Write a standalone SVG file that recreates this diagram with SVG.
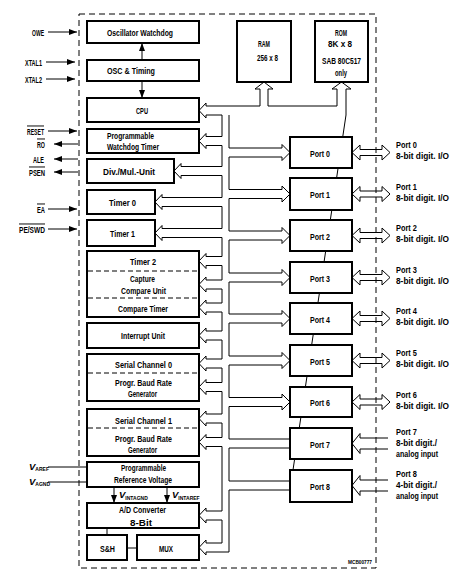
<svg xmlns="http://www.w3.org/2000/svg" width="466" height="577" viewBox="0 0 466 577">
<style>
.b{fill:#fff;stroke:#000;stroke-width:2}
.bus{fill:none;stroke:#000;stroke-width:1;stroke-linejoin:miter}
.ln{fill:none;stroke:#000;stroke-width:1}
.dv{stroke:#000;stroke-width:1;stroke-dasharray:5 3}
.t{font-family:"Liberation Sans",Arial,sans-serif;font-weight:bold;font-size:9.5px;fill:#000}
.s{font-size:5px}
.ov{text-decoration:overline}
</style>
<defs>
<marker id="ah" markerWidth="8" markerHeight="6" refX="8" refY="3" orient="auto" markerUnits="userSpaceOnUse"><path d="M0,0L8,3L0,6z" fill="#000"/></marker>
</defs>
<rect x="0" y="0" width="466" height="577" fill="#fff"/>
<rect id="chip" x="79" y="14" width="297" height="554" fill="none" stroke="#000" stroke-width="1" stroke-dasharray="6 4"/>

<g id="connectors">
<path class="bus" d="M229,115 L229,148 L282,148 L282,144.5 L290,152.5 L282,160.5 L282,157 L229,157 L229,189.5 L282,189.5 L282,186 L290,194 L282,202 L282,198.5 L229,198.5 L229,231 L282,231 L282,227.5 L290,235.5 L282,243.5 L282,240 L229,240 L229,273 L282,273 L282,269.5 L290,277.5 L282,285.5 L282,282 L229,282 L229,314 L282,314 L282,310.5 L290,318.5 L282,326.5 L282,323 L229,323 L229,356 L282,356 L282,352.5 L290,360.5 L282,368.5 L282,365 L229,365 L229,397.5 L282,397.5 L282,394 L290,402 L282,410 L282,406.5 L229,406.5 L229,439 L290,439 M290,448 L229,448 L229,481 L290,481 M290,490 L229,490 L229,552 L206,552 L206,555 L199,547.5 L206,540 L206,543 L222,543 L222,520 L206,520 L206,523 L199,515.5 L206,508 L206,511 L222,511 L222,446.5 L206,446.5 L206,449.5 L199,442 L206,434.5 L206,437.5 L222,437.5 L222,423 L206,423 L206,426 L199,418.5 L206,411 L206,414 L222,414 L222,391.5 L206,391.5 L206,394.5 L199,387 L206,379.5 L206,382.5 L222,382.5 L222,368 L206,368 L206,371 L199,363.5 L206,356 L206,359 L222,359 L222,340 L206,340 L206,343 L199,335.5 L206,328 L206,331 L222,331 L222,312 L206,312 L206,315 L199,307.5 L206,300 L206,303 L222,303 L222,289 L206,289 L206,292 L199,284.5 L206,277 L206,280 L222,280 L222,265.5 L206,265.5 L206,268.5 L199,261 L206,253.5 L206,256.5 L222,256.5 L222,237.5 L162,237.5 L162,240.5 L155,233 L162,225.5 L162,228.5 L222,228.5 L222,206.5 L162,206.5 L162,209.5 L155,202 L162,194.5 L162,197.5 L222,197.5 L222,175.5 L181,175.5 L181,178.5 L174,171 L181,163.5 L181,166.5 L222,166.5 L222,145.5 L206,145.5 L206,148.5 L199,141 L206,133.5 L206,136.5 L222,136.5 L222,115 L206,115 L206,118 L199,110.5 L206,103 L206,106 L260,106 L260,89 L255,89 L264,82 L273,89 L268,89 L268,106 L337,106 L337,89 L332,89 L341.5,82 L351,89 L346,89 L346,115 Z"/>
<path class="bus" d="M352,152.5L360,145L360,149.5L382,149.5L382,145L390,152.5L382,160L382,155.5L360,155.5L360,160Z M352,194L360,186.5L360,191L382,191L382,186.5L390,194L382,201.5L382,197L360,197L360,201.5Z M352,235.5L360,228L360,232.5L382,232.5L382,228L390,235.5L382,243L382,238.5L360,238.5L360,243Z M352,277.5L360,270L360,274.5L382,274.5L382,270L390,277.5L382,285L382,280.5L360,280.5L360,285Z M352,318.5L360,311L360,315.5L382,315.5L382,311L390,318.5L382,326L382,321.5L360,321.5L360,326Z M352,360.5L360,353L360,357.5L382,357.5L382,353L390,360.5L382,368L382,363.5L360,363.5L360,368Z M352,402L360,394.5L360,399L382,399L382,394.5L390,402L382,409.5L382,405L360,405L360,409.5Z"/>
<path class="bus" d="M388,438L360,438L360,433.5L352,443.5L360,453.5L360,449L388,449 M388,480L360,480L360,475.5L352,485.5L360,495.5L360,491L388,491"/>
<line class="ln" x1="142" y1="60" x2="142" y2="43" marker-end="url(#ah)"/>
<line class="ln" x1="142" y1="81" x2="142" y2="98" marker-end="url(#ah)"/>
<line class="ln" x1="114" y1="487" x2="114" y2="503" marker-end="url(#ah)"/>
<line class="ln" x1="167" y1="487" x2="167" y2="503" marker-end="url(#ah)"/>
<line class="ln" x1="107" y1="528" x2="107" y2="535"/>
<line class="ln" x1="127" y1="548" x2="137" y2="548"/>
<line class="ln" x1="48" y1="32" x2="77" y2="32" marker-end="url(#ah)"/>
<line class="ln" x1="46" y1="62" x2="75" y2="62" marker-end="url(#ah)"/>
<line class="ln" x1="46" y1="79" x2="75" y2="79" marker-end="url(#ah)"/>
<line class="ln" x1="48" y1="131" x2="77" y2="131" marker-end="url(#ah)"/>
<line class="ln" x1="78" y1="144" x2="54" y2="144" marker-end="url(#ah)"/>
<line class="ln" x1="78" y1="159" x2="54" y2="159" marker-end="url(#ah)"/>
<line class="ln" x1="78" y1="172" x2="54" y2="172" marker-end="url(#ah)"/>
<line class="ln" x1="48" y1="209" x2="77" y2="209" marker-end="url(#ah)"/>
<line class="ln" x1="48" y1="229" x2="77" y2="229" marker-end="url(#ah)"/>
<line class="ln" x1="48" y1="467" x2="87" y2="467"/>
<line class="ln" x1="48" y1="482" x2="87" y2="482"/>
</g>

<g id="ext-labels">
<text class="t" x="32" y="35.5" textLength="12" lengthAdjust="spacingAndGlyphs">OWE</text>
<text class="t" x="25" y="65.5" textLength="17" lengthAdjust="spacingAndGlyphs">XTAL1</text>
<text class="t" x="25" y="82.5" textLength="17" lengthAdjust="spacingAndGlyphs">XTAL2</text>
<text class="t ov" x="27" y="134.5" textLength="17" lengthAdjust="spacingAndGlyphs">RESET</text>
<text class="t ov" x="37" y="147.5" textLength="8" lengthAdjust="spacingAndGlyphs">RO</text>
<text class="t" x="33" y="162.5" textLength="11" lengthAdjust="spacingAndGlyphs">ALE</text>
<text class="t ov" x="29" y="175.5" textLength="16" lengthAdjust="spacingAndGlyphs">PSEN</text>
<text class="t ov" x="37" y="212.5" textLength="8" lengthAdjust="spacingAndGlyphs">EA</text>
<text class="t ov" x="19" y="232.5" textLength="26" lengthAdjust="spacingAndGlyphs">PE/SWD</text>
<text class="t" x="29" y="469.5" font-style="italic">V<tspan class="s" dy="1.5" font-style="normal">AREF</tspan></text>
<text class="t" x="29" y="484.5" font-style="italic">V<tspan class="s" dy="1.5" font-style="normal">AGND</tspan></text>
<text class="t" x="119" y="498" font-style="italic">V<tspan class="s" dy="1.5" font-style="normal">INTAGND</tspan></text>
<text class="t" x="172" y="498" font-style="italic">V<tspan class="s" dy="1.5" font-style="normal">INTAREF</tspan></text>
</g>

<g id="osc-watchdog"><rect class="b" x="87" y="21" width="112" height="22"/><text class="t" x="107" y="35.5" textLength="66" lengthAdjust="spacingAndGlyphs">Oscillator Watchdog</text></g>
<g id="osc-timing"><rect class="b" x="87" y="60" width="112" height="21"/><text class="t" x="107" y="74" textLength="48" lengthAdjust="spacingAndGlyphs">OSC &amp; Timing</text></g>
<g id="cpu"><rect class="b" x="87" y="98" width="112" height="24"/><text class="t" x="136" y="113.5" textLength="12" lengthAdjust="spacingAndGlyphs">CPU</text></g>
<g id="pwt"><rect class="b" x="87" y="129" width="112" height="24"/><text class="t" x="107" y="138.5" textLength="47" lengthAdjust="spacingAndGlyphs">Programmable</text><text class="t" x="107" y="149.5" textLength="52" lengthAdjust="spacingAndGlyphs">Watchdog Timer</text></g>
<g id="divmul"><rect class="b" x="87" y="159" width="87" height="24"/><text class="t" x="103" y="175" textLength="52" lengthAdjust="spacingAndGlyphs">Div./Mul.-Unit</text></g>
<g id="timer0"><rect class="b" x="87" y="190" width="68" height="24"/><text class="t" x="109" y="206" textLength="27" lengthAdjust="spacingAndGlyphs">Timer 0</text></g>
<g id="timer1"><rect class="b" x="87" y="220" width="68" height="26"/><text class="t" x="110" y="236.6" textLength="25" lengthAdjust="spacingAndGlyphs">Timer 1</text></g>
<g id="timer2"><rect class="b" x="87" y="251" width="112" height="66"/><line class="dv" x1="88" y1="271" x2="198" y2="271"/><line class="dv" x1="88" y1="298" x2="198" y2="298"/>
<text class="t" x="130" y="265" textLength="26" lengthAdjust="spacingAndGlyphs">Timer 2</text>
<text class="t" x="130" y="282.3" textLength="25" lengthAdjust="spacingAndGlyphs">Capture</text>
<text class="t" x="121" y="294.3" textLength="45" lengthAdjust="spacingAndGlyphs">Compare Unit</text>
<text class="t" x="118" y="312.3" textLength="50" lengthAdjust="spacingAndGlyphs">Compare Timer</text></g>
<g id="interrupt"><rect class="b" x="87" y="323" width="112" height="25"/><text class="t" x="121" y="338.5" textLength="44" lengthAdjust="spacingAndGlyphs">Interrupt Unit</text></g>
<g id="serial0"><rect class="b" x="87" y="354" width="112" height="47"/><line class="dv" x1="88" y1="373" x2="198" y2="373"/>
<text class="t" x="115" y="368.3" textLength="57" lengthAdjust="spacingAndGlyphs">Serial Channel 0</text>
<text class="t" x="115" y="386" textLength="57" lengthAdjust="spacingAndGlyphs">Progr. Baud Rate</text>
<text class="t" x="128" y="396.8" textLength="29" lengthAdjust="spacingAndGlyphs">Generator</text></g>
<g id="serial1"><rect class="b" x="87" y="409" width="112" height="47"/><line class="dv" x1="88" y1="428" x2="198" y2="428"/>
<text class="t" x="115" y="424" textLength="57" lengthAdjust="spacingAndGlyphs">Serial Channel 1</text>
<text class="t" x="115" y="441.6" textLength="57" lengthAdjust="spacingAndGlyphs">Progr. Baud Rate</text>
<text class="t" x="128" y="452.8" textLength="29" lengthAdjust="spacingAndGlyphs">Generator</text></g>
<g id="refvolt"><rect class="b" x="87" y="462" width="112" height="25"/><text class="t" x="121" y="470.6" textLength="45" lengthAdjust="spacingAndGlyphs">Programmable</text><text class="t" x="114" y="483.3" textLength="58" lengthAdjust="spacingAndGlyphs">Reference Voltage</text></g>
<g id="adc"><rect class="b" x="87" y="503" width="112" height="25"/><text class="t" x="119" y="513.3" textLength="47" lengthAdjust="spacingAndGlyphs">A/D Converter</text><text class="t" x="130" y="525.6" textLength="22" lengthAdjust="spacingAndGlyphs">8-Bit</text></g>
<g id="sh"><rect class="b" x="87" y="535" width="40" height="25"/><text class="t" x="100" y="551.6" textLength="15" lengthAdjust="spacingAndGlyphs">S&amp;H</text></g>
<g id="mux"><rect class="b" x="137" y="535" width="62" height="25"/><text class="t" x="159" y="551.6" textLength="14" lengthAdjust="spacingAndGlyphs">MUX</text></g>

<g id="ram"><rect class="b" x="237" y="21" width="54" height="61"/><text class="t" x="258" y="47" textLength="12" lengthAdjust="spacingAndGlyphs">RAM</text><text class="t" x="257" y="60.6" textLength="21" lengthAdjust="spacingAndGlyphs">256 x 8</text></g>
<g id="rom"><rect class="b" x="315" y="21" width="53" height="61"/><text class="t" x="335" y="36" textLength="12" lengthAdjust="spacingAndGlyphs">ROM</text><text class="t" x="328" y="47.3" textLength="24" lengthAdjust="spacingAndGlyphs">8K x 8</text><text class="t" x="322" y="64" textLength="39" lengthAdjust="spacingAndGlyphs">SAB 80C517</text><text class="t" x="335" y="75.5" textLength="12" lengthAdjust="spacingAndGlyphs">only</text></g>

<g id="port0"><rect class="b" x="290" y="137" width="62" height="31"/><text class="t" x="310" y="156.5" textLength="20" lengthAdjust="spacingAndGlyphs">Port 0</text><text class="t" x="396" y="148.3" textLength="21" lengthAdjust="spacingAndGlyphs">Port 0</text><text class="t" x="396" y="159.3" textLength="53" lengthAdjust="spacingAndGlyphs">8-bit digit. I/O</text></g>
<g id="port1"><rect class="b" x="290" y="178" width="62" height="32"/><text class="t" x="310" y="198" textLength="20" lengthAdjust="spacingAndGlyphs">Port 1</text><text class="t" x="396" y="189.8" textLength="21" lengthAdjust="spacingAndGlyphs">Port 1</text><text class="t" x="396" y="200.8" textLength="53" lengthAdjust="spacingAndGlyphs">8-bit digit. I/O</text></g>
<g id="port2"><rect class="b" x="290" y="220" width="62" height="31"/><text class="t" x="310" y="239.5" textLength="20" lengthAdjust="spacingAndGlyphs">Port 2</text><text class="t" x="396" y="231.3" textLength="21" lengthAdjust="spacingAndGlyphs">Port 2</text><text class="t" x="396" y="242.3" textLength="53" lengthAdjust="spacingAndGlyphs">8-bit digit. I/O</text></g>
<g id="port3"><rect class="b" x="290" y="262" width="62" height="31"/><text class="t" x="310" y="281.5" textLength="20" lengthAdjust="spacingAndGlyphs">Port 3</text><text class="t" x="396" y="273.3" textLength="21" lengthAdjust="spacingAndGlyphs">Port 3</text><text class="t" x="396" y="284.3" textLength="53" lengthAdjust="spacingAndGlyphs">8-bit digit. I/O</text></g>
<g id="port4"><rect class="b" x="290" y="303" width="62" height="31"/><text class="t" x="310" y="322.5" textLength="20" lengthAdjust="spacingAndGlyphs">Port 4</text><text class="t" x="396" y="314.3" textLength="21" lengthAdjust="spacingAndGlyphs">Port 4</text><text class="t" x="396" y="325.3" textLength="53" lengthAdjust="spacingAndGlyphs">8-bit digit. I/O</text></g>
<g id="port5"><rect class="b" x="290" y="345" width="62" height="31"/><text class="t" x="310" y="364.5" textLength="20" lengthAdjust="spacingAndGlyphs">Port 5</text><text class="t" x="396" y="356.3" textLength="21" lengthAdjust="spacingAndGlyphs">Port 5</text><text class="t" x="396" y="367.3" textLength="53" lengthAdjust="spacingAndGlyphs">8-bit digit. I/O</text></g>
<g id="port6"><rect class="b" x="290" y="387" width="62" height="30"/><text class="t" x="310" y="406" textLength="20" lengthAdjust="spacingAndGlyphs">Port 6</text><text class="t" x="396" y="397.8" textLength="21" lengthAdjust="spacingAndGlyphs">Port 6</text><text class="t" x="396" y="408.8" textLength="53" lengthAdjust="spacingAndGlyphs">8-bit digit. I/O</text></g>
<g id="port7"><rect class="b" x="290" y="428" width="62" height="31"/><text class="t" x="310" y="447.5" textLength="20" lengthAdjust="spacingAndGlyphs">Port 7</text><text class="t" x="396" y="435.3" textLength="21" lengthAdjust="spacingAndGlyphs">Port 7</text><text class="t" x="396" y="446.3" textLength="41" lengthAdjust="spacingAndGlyphs">8-bit digit./</text><text class="t" x="396" y="457.3" textLength="42" lengthAdjust="spacingAndGlyphs">analog input</text></g>
<g id="port8"><rect class="b" x="290" y="470" width="62" height="32"/><text class="t" x="310" y="489.5" textLength="20" lengthAdjust="spacingAndGlyphs">Port 8</text><text class="t" x="396" y="477.3" textLength="21" lengthAdjust="spacingAndGlyphs">Port 8</text><text class="t" x="396" y="488.3" textLength="41" lengthAdjust="spacingAndGlyphs">4-bit digit./</text><text class="t" x="396" y="499.3" textLength="42" lengthAdjust="spacingAndGlyphs">analog input</text></g>

<text class="t" x="348" y="564" style="font-size:5px" textLength="24" lengthAdjust="spacingAndGlyphs">MCB00777</text>
</svg>
